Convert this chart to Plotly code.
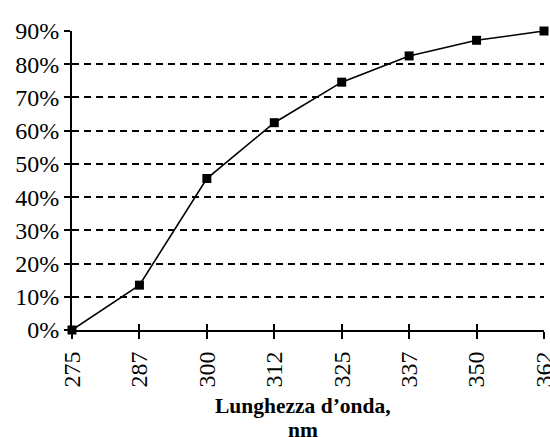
import plotly.graph_objects as go

wavelengths = ["275", "287", "300", "312", "325", "337", "350", "362"]
values = [0, 13.5, 45.6, 62.4, 74.6, 82.5, 87.2, 90]
y_ticks = [0, 10, 20, 30, 40, 50, 60, 70, 80, 90]
y_tick_labels = [f"{v}%" for v in y_ticks]
x_title_lines = ["Lunghezza d’onda,", "nm"]

FONT = "Liberation Serif, Times New Roman, serif"

fig = go.Figure()
fig.add_trace(go.Scatter(
    x=wavelengths, y=values, mode="lines+markers",
    line=dict(color="black", width=1.6),
    marker=dict(symbol="square", size=9, color="black"),
    cliponaxis=False, showlegend=False,
))
# overlay trace for cross ticks
fig.add_trace(go.Scatter(x=wavelengths, y=values, xaxis="x2", mode="none",
                         showlegend=False, hoverinfo="skip"))

fig.update_layout(
    width=550, height=437,
    margin=dict(l=72, r=6, t=31, b=107, autoexpand=False),
    paper_bgcolor="white", plot_bgcolor="white",
    font=dict(family=FONT, color="black", size=24),
    xaxis=dict(
        type="category", range=[0, 7], automargin=False,
        showline=True, linecolor="black", linewidth=2,
        ticks="outside", ticklen=7, tickwidth=2, tickcolor="black",
        tickangle=-90, tickfont=dict(size=24, family=FONT),
        ticklabelstandoff=3,
        showgrid=False, zeroline=False,
    ),
    xaxis2=dict(
        type="category", range=[0, 7], overlaying="x", side="bottom",
        ticks="inside", ticklen=6, tickwidth=2, tickcolor="black",
        showticklabels=False, showgrid=False, showline=False, zeroline=False,
        automargin=False,
    ),
    yaxis=dict(
        range=[0, 90], tickvals=y_ticks, ticktext=y_tick_labels, automargin=False,
        showline=True, linecolor="black", linewidth=2,
        ticks="outside", ticklen=6, tickwidth=2, tickcolor="black",
        showgrid=True, gridcolor="black", gridwidth=2, griddash="7px,5px",
        zeroline=False, tickfont=dict(size=24, family=FONT),
    ),
    annotations=[
        dict(
            text=f"<b>{line}</b>",
            xref="paper", yref="paper", x=0.489, y=0, yshift=shift,
            xanchor="center", yanchor="middle", showarrow=False,
            font=dict(size=21.5, family=FONT, color="black"),
        )
        for line, shift in zip(x_title_lines, [-76, -100])
    ],
)

fig.write_html("out.html", config={"displayModeBar": False},
               post_script="document.body.style.margin='0';")
